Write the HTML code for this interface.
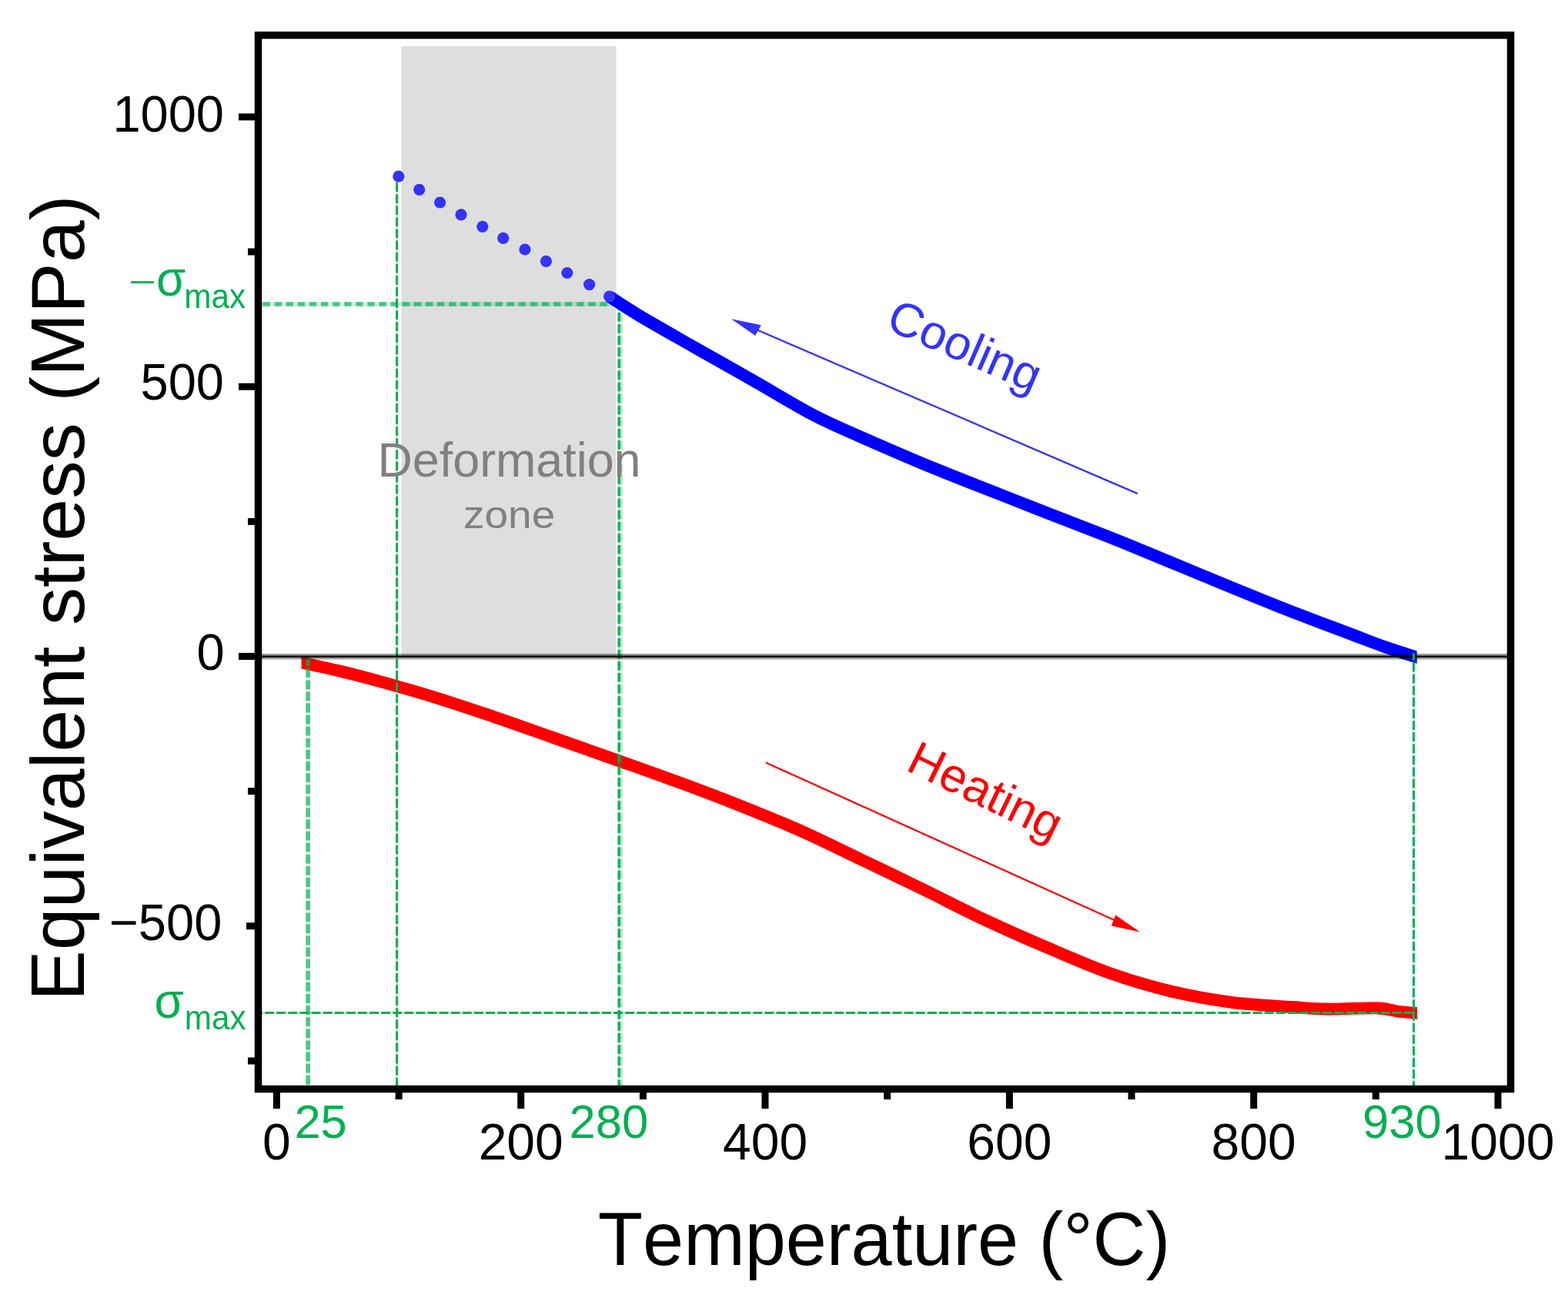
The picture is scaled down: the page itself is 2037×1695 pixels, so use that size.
<!DOCTYPE html>
<html><head><meta charset="utf-8"><title>Equivalent stress vs temperature</title>
<style>
html,body{margin:0;padding:0;background:#fff;}
body{width:2037px;height:1695px;overflow:hidden;}
svg{display:block;}
svg text{font-family:'Liberation Sans', Arial, sans-serif;font-kerning:none;}
</style></head>
<body>
<svg width="2037" height="1695" viewBox="0 0 2037 1695">
<rect width="2037" height="1695" fill="#fff"/>
<rect x="521.5" y="60" width="279" height="792.5" fill="#dedede"/>
<clipPath id="cr"><rect x="391.5" y="800" width="1449.5" height="560"/></clipPath>
<clipPath id="cb"><rect x="780" y="360" width="1060.7" height="520"/></clipPath>
<path clip-path="url(#cr)" d="M370.0,855.5 C373.6,856.3 380.0,857.9 391.5,860.5 C403.0,863.1 424.2,867.5 439.0,871.0 C453.8,874.5 459.8,875.9 480.0,881.4 C500.2,886.9 533.3,896.0 560.0,904.2 C586.7,912.4 613.3,921.4 640.0,930.4 C666.7,939.4 693.3,949.1 720.0,958.5 C746.7,967.9 773.3,977.2 800.0,986.7 C826.7,996.2 853.3,1005.5 880.0,1015.4 C906.7,1025.2 933.3,1035.2 960.0,1045.8 C986.7,1056.4 1013.3,1067.1 1040.0,1079.0 C1066.7,1090.9 1093.3,1104.2 1120.0,1117.0 C1146.7,1129.8 1173.3,1142.5 1200.0,1155.5 C1226.7,1168.5 1253.3,1182.5 1280.0,1195.0 C1306.7,1207.5 1333.3,1219.2 1360.0,1230.6 C1386.7,1242.0 1413.3,1254.0 1440.0,1263.4 C1466.7,1272.8 1493.3,1280.8 1520.0,1287.2 C1546.7,1293.6 1573.3,1298.3 1600.0,1301.8 C1626.7,1305.3 1659.2,1306.5 1680.0,1308.0 C1700.8,1309.5 1706.7,1310.2 1725.0,1310.5 C1743.3,1310.8 1775.0,1309.0 1790.0,1309.5 C1805.0,1310.0 1806.6,1312.4 1815.0,1313.5 C1823.4,1314.6 1833.7,1315.3 1840.5,1316.0 C1847.3,1316.7 1853.4,1317.2 1856.0,1317.5" fill="none" stroke="#ff0000" stroke-width="15.8" stroke-linejoin="round" stroke-linecap="butt"/>
<line x1="400.2" y1="852.5" x2="400.2" y2="1410.0" stroke="#00b050" stroke-width="5.8" stroke-opacity="0.12"/>
<line x1="400.2" y1="852.5" x2="400.2" y2="1410.0" stroke="#00b050" stroke-width="5.8" stroke-opacity="0.66" stroke-dasharray="11.8 3.3" stroke-dashoffset="14.4"/>
<line x1="515.6" y1="236.5" x2="515.6" y2="1410.0" stroke="#00b050" stroke-width="3.1" stroke-opacity="0.18"/>
<line x1="515.6" y1="236.5" x2="515.6" y2="1410.0" stroke="#00b050" stroke-width="3.1" stroke-opacity="1.00" stroke-dasharray="11.8 3.3" stroke-dashoffset="14.5"/>
<line x1="804.1" y1="395.0" x2="804.1" y2="1410.0" stroke="#00b050" stroke-width="3.2" stroke-opacity="0.18"/>
<line x1="804.1" y1="395.0" x2="804.1" y2="1410.0" stroke="#00b050" stroke-width="3.2" stroke-opacity="1.00" stroke-dasharray="11.8 3.3" stroke-dashoffset="4.2"/>
<line x1="807.2" y1="395.0" x2="807.2" y2="1410.0" stroke="#00b050" stroke-width="3.0" stroke-opacity="0.05"/>
<line x1="807.2" y1="395.0" x2="807.2" y2="1410.0" stroke="#00b050" stroke-width="3.0" stroke-opacity="0.30" stroke-dasharray="11.8 3.3" stroke-dashoffset="4.2"/>
<line x1="340.0" y1="395.0" x2="805.0" y2="395.0" stroke="#00b050" stroke-width="5.6" stroke-opacity="0.20"/>
<line x1="340.0" y1="395.0" x2="805.0" y2="395.0" stroke="#00b050" stroke-width="5.6" stroke-opacity="0.66" stroke-dasharray="9.3 5.8" stroke-dashoffset="13.6"/>
<line x1="340.0" y1="1315.5" x2="1837.0" y2="1315.5" stroke="#00b050" stroke-width="3.0" stroke-opacity="0.18"/>
<line x1="340.0" y1="1315.5" x2="1837.0" y2="1315.5" stroke="#00b050" stroke-width="3.0" stroke-opacity="1.00" stroke-dasharray="11.8 3.3" stroke-dashoffset="10.9"/>
<path clip-path="url(#cb)" d="M791.5,385.0 C797.9,389.1 811.9,398.8 830.0,409.6 C848.1,420.4 875.0,435.6 900.0,449.9 C925.0,464.1 953.3,480.0 980.0,495.1 C1006.7,510.2 1033.3,527.2 1060.0,540.8 C1086.7,554.4 1113.3,565.2 1140.0,576.9 C1166.7,588.6 1193.3,600.0 1220.0,610.9 C1246.7,621.8 1273.3,632.0 1300.0,642.5 C1326.7,653.0 1353.3,663.5 1380.0,673.9 C1406.7,684.3 1430.0,693.0 1460.0,705.1 C1490.0,717.2 1526.7,732.8 1560.0,746.5 C1593.3,760.2 1626.7,774.1 1660.0,787.3 C1693.3,800.5 1736.7,816.6 1760.0,825.5 C1783.3,834.4 1786.9,835.9 1800.0,840.5 C1813.1,845.1 1829.2,850.1 1838.5,853.0 C1847.8,855.9 1853.1,857.2 1856.0,858.0" fill="none" stroke="#0000ff" stroke-width="15.8" stroke-linejoin="round" stroke-linecap="butt"/>
<line x1="340" y1="852.8" x2="1958" y2="852.8" stroke="#000" stroke-opacity="0.38" stroke-width="7.5"/>
<line x1="340" y1="852.8" x2="1958" y2="852.8" stroke="#000" stroke-width="2.4"/>
<line x1="1836.5" y1="848.3" x2="1836.5" y2="1410.0" stroke="#00b050" stroke-width="3.0" stroke-opacity="0.18"/>
<line x1="1836.5" y1="848.3" x2="1836.5" y2="1410.0" stroke="#00b050" stroke-width="3.0" stroke-opacity="1.00" stroke-dasharray="11.8 3.3" stroke-dashoffset="2.7"/>
<circle cx="517.8" cy="229.2" r="7.6" fill="#3333ff"/>
<circle cx="544.7" cy="246.3" r="7.6" fill="#3333ff"/>
<circle cx="571.6" cy="263.0" r="7.6" fill="#3333ff"/>
<circle cx="599.0" cy="278.8" r="7.6" fill="#3333ff"/>
<circle cx="626.8" cy="294.3" r="7.6" fill="#3333ff"/>
<circle cx="653.7" cy="309.4" r="7.6" fill="#3333ff"/>
<circle cx="681.9" cy="324.0" r="7.6" fill="#3333ff"/>
<circle cx="709.4" cy="339.3" r="7.6" fill="#3333ff"/>
<circle cx="736.8" cy="354.5" r="7.6" fill="#3333ff"/>
<circle cx="765.6" cy="369.6" r="7.6" fill="#3333ff"/>
<circle cx="791.6" cy="385.0" r="7.6" fill="#3333ff"/>
<line x1="1477.8" y1="641.1" x2="980" y2="427" stroke="#3333ff" stroke-width="2.3"/>
<polygon points="950,414.3 988.8,422.3 981.2,436.1" fill="#3333ff"/>
<line x1="995" y1="990.5" x2="1452" y2="1197" stroke="#ff0000" stroke-width="2.3"/>
<polygon points="1480.9,1210.4 1449.2,1188.4 1443.7,1202.5" fill="#ff0000"/>
<rect x="335.5" y="45.75" width="1627" height="1368.75" fill="none" stroke="#000" stroke-width="9.5"/>
<line x1="310.0" y1="151.9" x2="331" y2="151.9" stroke="#000" stroke-width="9"/>
<line x1="310.0" y1="502.2" x2="331" y2="502.2" stroke="#000" stroke-width="9"/>
<line x1="310.0" y1="852.5" x2="331" y2="852.5" stroke="#000" stroke-width="9"/>
<line x1="320.0" y1="1202.8" x2="331" y2="1202.8" stroke="#000" stroke-width="9"/>
<line x1="322.0" y1="327.0" x2="331" y2="327.0" stroke="#000" stroke-width="9"/>
<line x1="322.0" y1="677.4" x2="331" y2="677.4" stroke="#000" stroke-width="9"/>
<line x1="322.0" y1="1027.7" x2="331" y2="1027.7" stroke="#000" stroke-width="9"/>
<line x1="322.0" y1="1378.0" x2="331" y2="1378.0" stroke="#000" stroke-width="9"/>
<line x1="359.4" y1="1419" x2="359.4" y2="1440.0" stroke="#000" stroke-width="9"/>
<line x1="518.1" y1="1419" x2="518.1" y2="1428.0" stroke="#000" stroke-width="9"/>
<line x1="676.7" y1="1419" x2="676.7" y2="1440.0" stroke="#000" stroke-width="9"/>
<line x1="835.4" y1="1419" x2="835.4" y2="1428.0" stroke="#000" stroke-width="9"/>
<line x1="994.0" y1="1419" x2="994.0" y2="1440.0" stroke="#000" stroke-width="9"/>
<line x1="1152.7" y1="1419" x2="1152.7" y2="1428.0" stroke="#000" stroke-width="9"/>
<line x1="1311.4" y1="1419" x2="1311.4" y2="1440.0" stroke="#000" stroke-width="9"/>
<line x1="1470.0" y1="1419" x2="1470.0" y2="1428.0" stroke="#000" stroke-width="9"/>
<line x1="1628.7" y1="1419" x2="1628.7" y2="1440.0" stroke="#000" stroke-width="9"/>
<line x1="1787.3" y1="1419" x2="1787.3" y2="1428.0" stroke="#000" stroke-width="9"/>
<line x1="1946.0" y1="1419" x2="1946.0" y2="1440.0" stroke="#000" stroke-width="9"/>
<text transform="translate(291.00,170.50) scale(1.000,1.020)" font-size="65.00" text-anchor="end">1000</text>
<text transform="translate(291.00,519.30) scale(1.000,1.020)" font-size="65.00" text-anchor="end">500</text>
<text transform="translate(291.70,870.10) scale(1.000,1.020)" font-size="65.00" text-anchor="end">0</text>
<text transform="translate(288.30,1221.10) scale(1.000,1.020)" font-size="65.00" text-anchor="end">−500</text>
<text transform="translate(359.40,1506.40)" font-size="66.00" text-anchor="middle">0</text>
<text transform="translate(676.72,1506.40)" font-size="66.00" text-anchor="middle">200</text>
<text transform="translate(994.04,1506.40)" font-size="66.00" text-anchor="middle">400</text>
<text transform="translate(1311.36,1506.40)" font-size="66.00" text-anchor="middle">600</text>
<text transform="translate(1628.68,1506.40)" font-size="66.00" text-anchor="middle">800</text>
<text transform="translate(1946.00,1506.40)" font-size="66.00" text-anchor="middle">1000</text>
<text transform="translate(382.40,1477.60)" font-size="61.50" fill="#00b050">25</text>
<text transform="translate(739.50,1477.60)" font-size="61.50" fill="#00b050">280</text>
<text transform="translate(1770.10,1477.60)" font-size="61.50" fill="#00b050">930</text>
<text transform="translate(167.10,379.80) scale(1.550,1.000)" font-size="40.00" fill="#00b050">−</text>
<text transform="translate(203.00,384.40) scale(1.000,1.060)" font-size="62.00" fill="#00b050">σ</text>
<text transform="translate(239.30,400.00) scale(1.000,1.030)" font-size="42.20" fill="#00b050">max</text>
<text transform="translate(200.50,1321.70) scale(1.000,1.060)" font-size="62.00" fill="#00b050">σ</text>
<text transform="translate(239.80,1336.50) scale(1.000,1.030)" font-size="42.20" fill="#00b050">max</text>
<text transform="translate(776.80,1643.30) scale(1.000,1.020)" font-size="95.45">Temperature (°C)</text>
<text transform="translate(109.35,1300.00) rotate(-90.00)" font-size="98.60">Equivalent stress (MPa)</text>
<text transform="translate(490.50,618.70)" font-size="62.80" fill="#808080">Deformation</text>
<text transform="translate(602.00,686.40) scale(1.000,0.910)" font-size="55.00" fill="#808080">zone</text>
<text transform="translate(1148.80,426.60) rotate(23.50)" font-size="62.00" fill="#3333ff">Cooling</text>
<text transform="translate(1175.10,999.40) rotate(26.00)" font-size="62.00" fill="#ff0000">Heating</text>
</svg>
</body></html>
